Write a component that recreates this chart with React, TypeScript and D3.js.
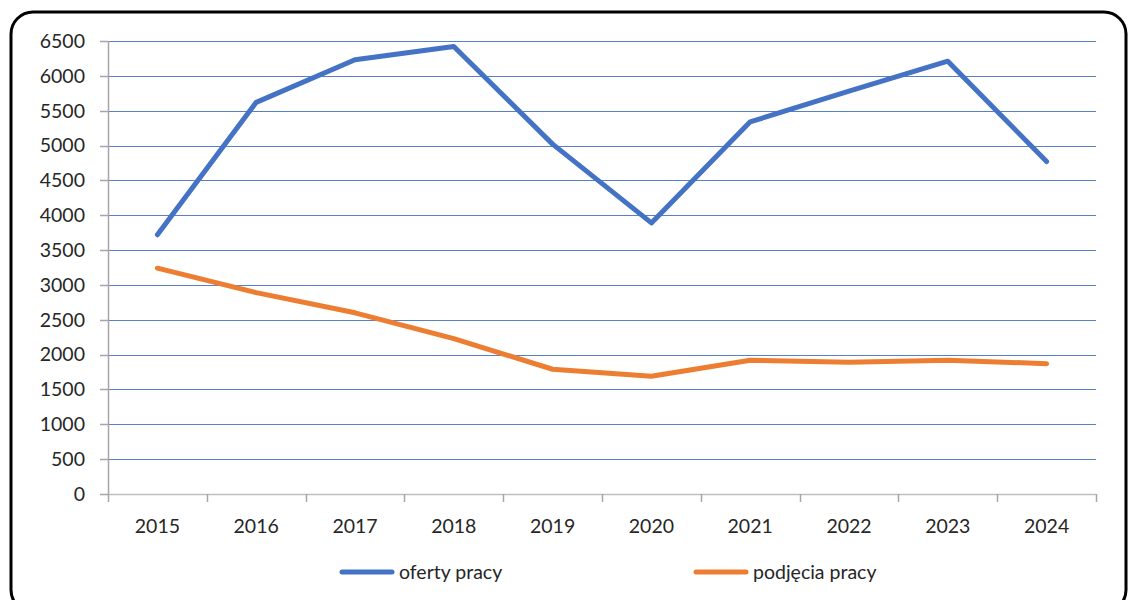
import React, { useEffect, useRef } from 'react';
import * as d3 from 'd3';

const years = ['2015', '2016', '2017', '2018', '2019', '2020', '2021', '2022', '2023', '2024'];
const ofertyPracy = [3720, 5620, 6230, 6420, 5020, 3890, 5340, 5780, 6210, 4770];
const podjeciaPracy = [3240, 2890, 2600, 2230, 1790, 1690, 1920, 1890, 1920, 1870];
const yTicks = [0, 500, 1000, 1500, 2000, 2500, 3000, 3500, 4000, 4500, 5000, 5500, 6000, 6500];

const W = 1130;
const H = 600;
const FONT = 'Lato, "Open Sans", sans-serif';
const FS = '19.5px';

const App = () => {
  const ref = useRef<SVGSVGElement>(null);

  useEffect(() => {
    const svg = d3.select(ref.current);
    svg.selectAll('*').remove();

    const left = 108;
    const right = 1096;
    const top = 41;
    const bottom = 494;

    // band scale for category boundaries, point in the middle
    const x = d3.scaleBand().domain(years).range([left, right]);
    const xc = (d: string) => (x(d) as number) + x.bandwidth() / 2;
    const y = d3.scaleLinear().domain([0, 6500]).range([bottom, top]);

    // frame (bottom edge runs off the picture)
    svg
      .append('rect')
      .attr('x', 11)
      .attr('y', 12)
      .attr('width', 1115)
      .attr('height', 600)
      .attr('rx', 22)
      .attr('fill', 'white')
      .attr('stroke', 'black')
      .attr('stroke-width', 3);

    // gridlines
    svg
      .append('g')
      .selectAll('line')
      .data(yTicks.filter((t) => t > 0))
      .enter()
      .append('line')
      .attr('x1', left)
      .attr('x2', right)
      .attr('y1', (d) => Math.round(y(d)) + 0.5)
      .attr('y2', (d) => Math.round(y(d)) + 0.5)
      .attr('stroke', '#4472c4')
      .attr('stroke-opacity', 0.9)
      .attr('stroke-width', 1.2);

    // y axis
    const gy = svg.append('g');
    gy.append('line')
      .attr('x1', left + 0.5)
      .attr('x2', left + 0.5)
      .attr('y1', top)
      .attr('y2', bottom)
      .attr('stroke', '#a6a6a6')
      .attr('stroke-width', 1.5);
    gy.selectAll('.tk')
      .data(yTicks)
      .enter()
      .append('line')
      .attr('x1', left - 8)
      .attr('x2', left)
      .attr('y1', (d) => Math.round(y(d)) + 0.5)
      .attr('y2', (d) => Math.round(y(d)) + 0.5)
      .attr('stroke', '#a6a6a6')
      .attr('stroke-width', 1.5);
    gy.selectAll('text')
      .data(yTicks)
      .enter()
      .append('text')
      .attr('x', 85)
      .attr('y', (d) => y(d))
      .attr('dy', '0.35em')
      .attr('text-anchor', 'end')
      .attr('font-family', FONT)
      .attr('font-size', FS)
      .attr('fill', '#262626')
      .text((d) => d);

    // x axis
    const gx = svg.append('g');
    gx.append('line')
      .attr('x1', left)
      .attr('x2', right)
      .attr('y1', bottom + 0.5)
      .attr('y2', bottom + 0.5)
      .attr('stroke', '#bfbfbf')
      .attr('stroke-width', 1.5);
    gx.selectAll('.tk')
      .data([...years.map((d) => x(d) as number), right])
      .enter()
      .append('line')
      .attr('x1', (d) => Math.round(d) + 0.5)
      .attr('x2', (d) => Math.round(d) + 0.5)
      .attr('y1', bottom)
      .attr('y2', bottom + 8)
      .attr('stroke', '#a6a6a6')
      .attr('stroke-width', 1.5);
    gx.selectAll('text')
      .data(years)
      .enter()
      .append('text')
      .attr('x', (d) => xc(d))
      .attr('y', 533)
      .attr('text-anchor', 'middle')
      .attr('font-family', FONT)
      .attr('font-size', FS)
      .attr('fill', '#262626')
      .text((d) => d);

    const line = d3
      .line<number>()
      .x((d, i) => xc(years[i]))
      .y((d) => y(d));

    const series = [
      { name: 'oferty pracy', values: ofertyPracy, color: '#4472c4', lx: 342 },
      { name: 'podjęcia pracy', values: podjeciaPracy, color: '#ed7d31', lx: 696 },
    ];

    series.forEach((s) => {
      svg
        .append('path')
        .datum(s.values)
        .attr('d', line)
        .attr('fill', 'none')
        .attr('stroke', s.color)
        .attr('stroke-width', 5)
        .attr('stroke-linejoin', 'round')
        .attr('stroke-linecap', 'round');

      // legend
      svg
        .append('line')
        .attr('x1', s.lx)
        .attr('x2', s.lx + 50)
        .attr('y1', 572)
        .attr('y2', 572)
        .attr('stroke', s.color)
        .attr('stroke-width', 5)
        .attr('stroke-linecap', 'round');
      svg
        .append('text')
        .attr('x', s.lx + 57)
        .attr('y', 572)
        .attr('dy', '0.35em')
        .attr('font-family', FONT)
        .attr('font-size', FS)
        .attr('fill', '#262626')
        .text(s.name);
    });
  }, []);

  return (
    <div style={{ position: 'absolute', left: 0, top: 0, width: W, height: H, background: 'white', overflow: 'hidden' }}>
      <svg ref={ref} width={W} height={H}></svg>
    </div>
  );
};

export default App;
